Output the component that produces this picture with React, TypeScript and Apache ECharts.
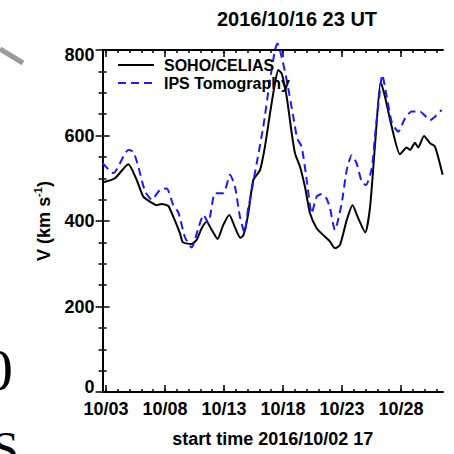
import React, { useEffect, useRef } from "react";
import * as echarts from "echarts";

// x = days since start time 2016/10/02 17 UT
const SOHO_X = [0, 1.05, 2.18, 2.89, 3.45, 4.02, 4.58, 5.01, 5.57, 5.99, 6.56, 6.81, 7.55, 7.97, 8.4, 8.82, 9.25, 9.74, 10.23, 10.74, 11.22, 11.67, 11.94, 12.35, 12.77, 13.34, 13.76, 14.19, 14.61, 14.89, 15.18, 15.6, 16.03, 16.31, 16.73, 17.15, 17.58, 18.14, 18.7, 19.27, 19.69, 20.12, 20.69, 21.18, 21.67, 22.26, 22.67, 23.1, 23.57, 23.93, 24.5, 25.21, 25.77, 26.05, 26.47, 26.75, 27.24, 27.75, 28.17, 28.82];
const SOHO_V = [490, 500, 533, 496, 457, 445, 437, 440, 435, 410, 371, 350, 346, 356, 383, 398, 379, 358, 391, 414, 385, 361, 367, 418, 496, 519, 574, 652, 722, 753, 745, 691, 605, 558, 527, 480, 418, 383, 367, 352, 336, 344, 402, 437, 406, 373, 433, 582, 726, 691, 621, 556, 572, 566, 583, 572, 599, 582, 574, 508];

const IPS_X = [0, 0.91, 2.18, 2.6, 3.03, 3.59, 4.16, 4.86, 5.43, 5.99, 6.42, 6.98, 7.55, 8.11, 8.55, 8.96, 9.53, 10.23, 10.8, 11.22, 11.64, 12.03, 12.35, 12.49, 13.06, 13.62, 14.19, 14.61, 14.82, 15.12, 15.6, 16.16, 16.5, 16.87, 17.3, 17.72, 18.14, 18.57, 18.99, 19.27, 19.69, 20.26, 20.69, 21.11, 21.53, 21.96, 22.32, 22.81, 23.08, 23.45, 23.7, 24.08, 24.5, 25.06, 25.63, 26.19, 26.9, 27.75, 28.74];
const IPS_V = [535, 512, 566, 562, 527, 470, 450, 473, 476, 437, 420, 362, 338, 383, 414, 396, 465, 465, 508, 480, 410, 373, 433, 449, 535, 621, 730, 800, 815, 790, 730, 644, 593, 574, 496, 418, 457, 463, 452, 430, 379, 441, 519, 554, 535, 492, 484, 523, 597, 691, 742, 691, 632, 609, 640, 656, 656, 636, 660];

const TICK_LABELS = ["10/03", "10/08", "10/13", "10/18", "10/23", "10/28"];
const Y_TICKS = [0, 200, 400, 600, 800];
const FIRST_TICK = 7 / 24; // 10/03 00 UT
const X_MAX = 28.85;

const MAJOR = TICK_LABELS.map((_, i) => FIRST_TICK + 5 * i);
const MINOR: number[] = [];
for (let k = 0; FIRST_TICK + k <= X_MAX; k++) MINOR.push(FIRST_TICK + k);

const FONT = "Liberation Sans";

export default function App() {
  const ref = useRef<HTMLDivElement>(null);
  useEffect(() => {
    const chart = echarts.init(ref.current!, null, { renderer: "svg" });
    const axisLine = { show: true, lineStyle: { color: "#000", width: 2 } };
    const baseX = {
      type: "value" as const,
      min: 0,
      max: X_MAX,
      splitLine: { show: false },
      axisLine,
    };
    const baseY = {
      type: "value" as const,
      min: Y_TICKS[0],
      max: Y_TICKS[Y_TICKS.length - 1],
      interval: 200,
      splitLine: { show: false },
      axisLine,
      axisTick: { show: true, inside: true, length: 7, lineStyle: { color: "#000", width: 1.5 } },
      minorTick: { show: true, splitNumber: 4, length: 4, lineStyle: { color: "#000", width: 1.5 } },
    };
    chart.setOption({
      animation: false,
      backgroundColor: "#fff",
      title: {
        text: "2016/10/16 23 UT",
        left: 292,
        textAlign: "center",
        top: 4,
        textStyle: { fontFamily: FONT, fontWeight: "bold", fontSize: 20, color: "#000" },
      },
      grid: { left: 102.6, right: 11, top: 50, bottom: 62 },
      legend: {
        orient: "vertical",
        left: 117,
        top: 57,
        padding: 0,
        itemGap: 2,
        itemWidth: 36,
        itemHeight: 16,
        itemStyle: { opacity: 0 },
        textStyle: { fontFamily: FONT, fontWeight: "bold", fontSize: 16, color: "#000", lineHeight: 16, padding: [0, 0, 0, 5] },
        data: ["SOHO/CELIAS", "IPS Tomography"],
      },
      xAxis: [
        {
          ...baseX,
          position: "bottom",
          axisTick: { show: true, inside: true, length: 7, customValues: MAJOR, lineStyle: { color: "#000", width: 1.5 } },
          axisLabel: {
            show: true,
            customValues: MAJOR,
            margin: 8,
            fontFamily: FONT,
            fontWeight: "bold",
            fontSize: 18,
            color: "#000",
            formatter: (v: number) => TICK_LABELS[Math.round((v - FIRST_TICK) / 5)] ?? "",
          },
          name: "start time 2016/10/02 17",
          nameLocation: "middle",
          nameGap: 38,
          nameTextStyle: { fontFamily: FONT, fontWeight: "bold", fontSize: 18, color: "#000" },
        },
        {
          ...baseX,
          position: "bottom",
          axisLine: { show: false },
          axisTick: { show: true, inside: true, length: 3, customValues: MINOR, lineStyle: { color: "#000", width: 1.5 } },
          axisLabel: { show: false },
        },
        {
          ...baseX,
          position: "top",
          axisTick: { show: true, inside: true, length: 7, customValues: MAJOR, lineStyle: { color: "#000", width: 1.5 } },
          axisLabel: { show: false },
        },
        {
          ...baseX,
          position: "top",
          axisLine: { show: false },
          axisTick: { show: true, inside: true, length: 3, customValues: MINOR, lineStyle: { color: "#000", width: 1.5 } },
          axisLabel: { show: false },
        },
      ],
      yAxis: [
        {
          ...baseY,
          position: "left",
          axisLabel: {
            show: true,
            margin: 8,
            color: "#000",
            formatter: (v: number) =>
              v === 800 ? "{t|" + v + "}" : v === 0 ? "{b|" + v + "}" : "{n|" + v + "}",
            rich: {
              n: { fontFamily: FONT, fontWeight: "bold", fontSize: 18, color: "#000" },
              t: { fontFamily: FONT, fontWeight: "bold", fontSize: 18, color: "#000", padding: [10, 0, 0, 0] },
              b: { fontFamily: FONT, fontWeight: "bold", fontSize: 18, color: "#000", padding: [0, 0, 10, 0] },
            },
          },
          name: "{a|V (km s}{s|-1}{a|)}",
          nameLocation: "middle",
          nameGap: 50,
          nameRotate: 90,
          nameTextStyle: {
            rich: {
              a: { fontFamily: FONT, fontWeight: "bold", fontSize: 18, color: "#000", lineHeight: 20, verticalAlign: "bottom" },
              s: { fontFamily: FONT, fontWeight: "bold", fontSize: 11, color: "#000", lineHeight: 20, verticalAlign: "top" },
            },
          },
        },
        {
          ...baseY,
          position: "right",
          axisLabel: { show: false },
        },
      ],
      series: [
        {
          name: "SOHO/CELIAS",
          type: "line",
          xAxisIndex: 0,
          yAxisIndex: 0,
          data: SOHO_X.map((x, i) => [x, SOHO_V[i]]),
          showSymbol: false,
          symbol: "none",
          smooth: 0.2,
          lineStyle: { color: "#000", width: 2 },
          itemStyle: { color: "#000" },
        },
        {
          name: "IPS Tomography",
          type: "line",
          xAxisIndex: 0,
          yAxisIndex: 0,
          data: IPS_X.map((x, i) => [x, IPS_V[i]]),
          showSymbol: false,
          symbol: "none",
          smooth: 0.2,
          clip: false,
          lineStyle: { color: "#1a1aff", width: 2, type: [8, 5] },
          itemStyle: { color: "#1a1aff" },
        },
      ],
      graphic: [
        { type: "line", shape: { x1: 0, y1: 49, x2: 23, y2: 63 }, style: { stroke: "#9a9a9a", lineWidth: 5 } },
        {
          type: "text",
          x: -17,
          y: 370,
          style: { text: "0", font: "60px 'Liberation Serif'", fill: "#000", textVerticalAlign: "middle" },
        },
        {
          type: "text",
          x: -8,
          y: 424,
          style: { text: "S", font: "48px 'Liberation Serif'", fill: "#000", textVerticalAlign: "top" },
        },
      ],
    });
    return () => chart.dispose();
  }, []);
  return <div ref={ref} style={{ position: "fixed", left: 0, top: 0, width: 454, height: 454 }} />;
}
